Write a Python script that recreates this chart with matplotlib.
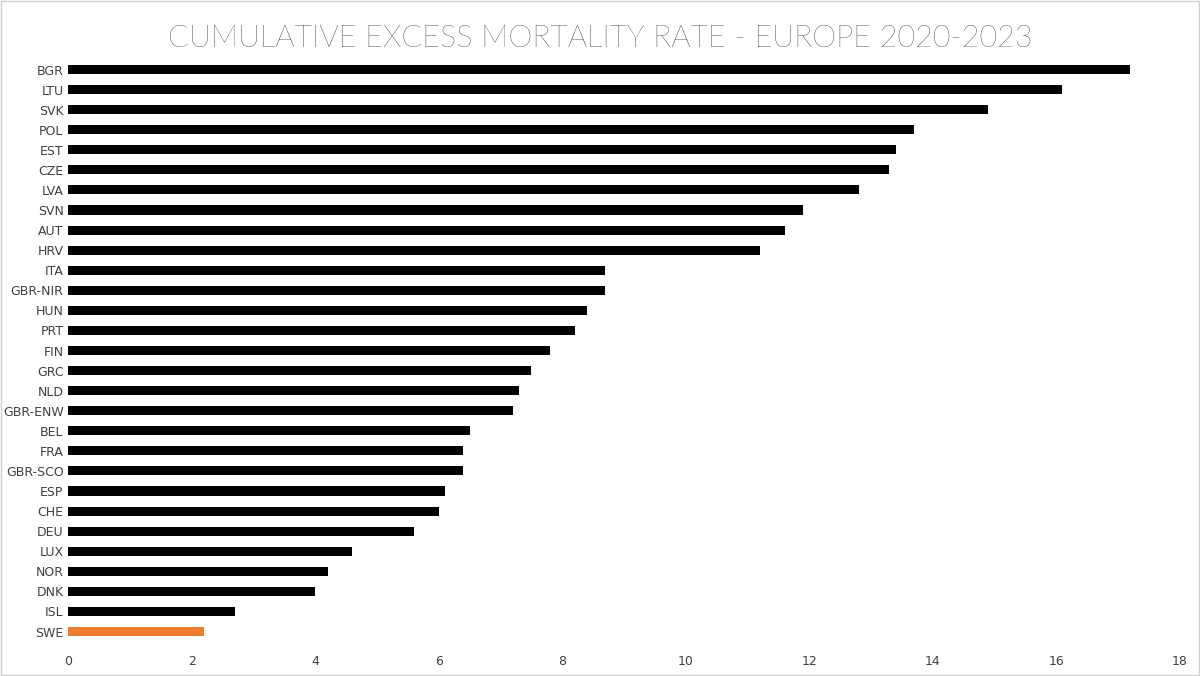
import matplotlib.pyplot as plt

countries = ["BGR", "LTU", "SVK", "POL", "EST", "CZE", "LVA", "SVN", "AUT", "HRV",
             "ITA", "GBR-NIR", "HUN", "PRT", "FIN", "GRC", "NLD", "GBR-ENW", "BEL", "FRA",
             "GBR-SCO", "ESP", "CHE", "DEU", "LUX", "NOR", "DNK", "ISL", "SWE"]
values = [17.2, 16.1, 14.9, 13.7, 13.4, 13.3, 12.8, 11.9, 11.6, 11.2,
          8.7, 8.7, 8.4, 8.2, 7.8, 7.5, 7.3, 7.2, 6.5, 6.4,
          6.4, 6.1, 6.0, 5.6, 4.6, 4.2, 4.0, 2.7, 2.2]
ticks = [0, 2, 4, 6, 8, 10, 12, 14, 16, 18]

colors = ["#ED7D31" if c == "SWE" else "black" for c in countries]

fig = plt.figure(figsize=(12, 6.76), dpi=100)
ax = fig.add_axes([0.057, 0.048, 0.926, 0.867])
ax.barh(range(len(countries)), values, height=0.45, color=colors)
ax.set_yticks(range(len(countries)))
ax.set_yticklabels(countries, fontsize=9)
ax.invert_yaxis()
ax.set_ylim(len(countries) - 0.4, -0.6)
ax.set_xlim(0, 18)
ax.set_xticks(ticks)
ax.tick_params(axis='both', length=0, labelsize=9, colors='#404040')
ax.tick_params(axis='x', pad=8)
for s in ax.spines.values():
    s.set_visible(False)
fig.suptitle("CUMULATIVE EXCESS MORTALITY RATE - EUROPE 2020-2023",
             y=0.965, fontsize=22, fontweight='light', family='Lato')
fig.patches.append(plt.Rectangle((0.001, 0.001), 0.998, 0.998, transform=fig.transFigure,
                                 fill=False, edgecolor='#d0d0d0', linewidth=1))
fig.savefig("out.png")
